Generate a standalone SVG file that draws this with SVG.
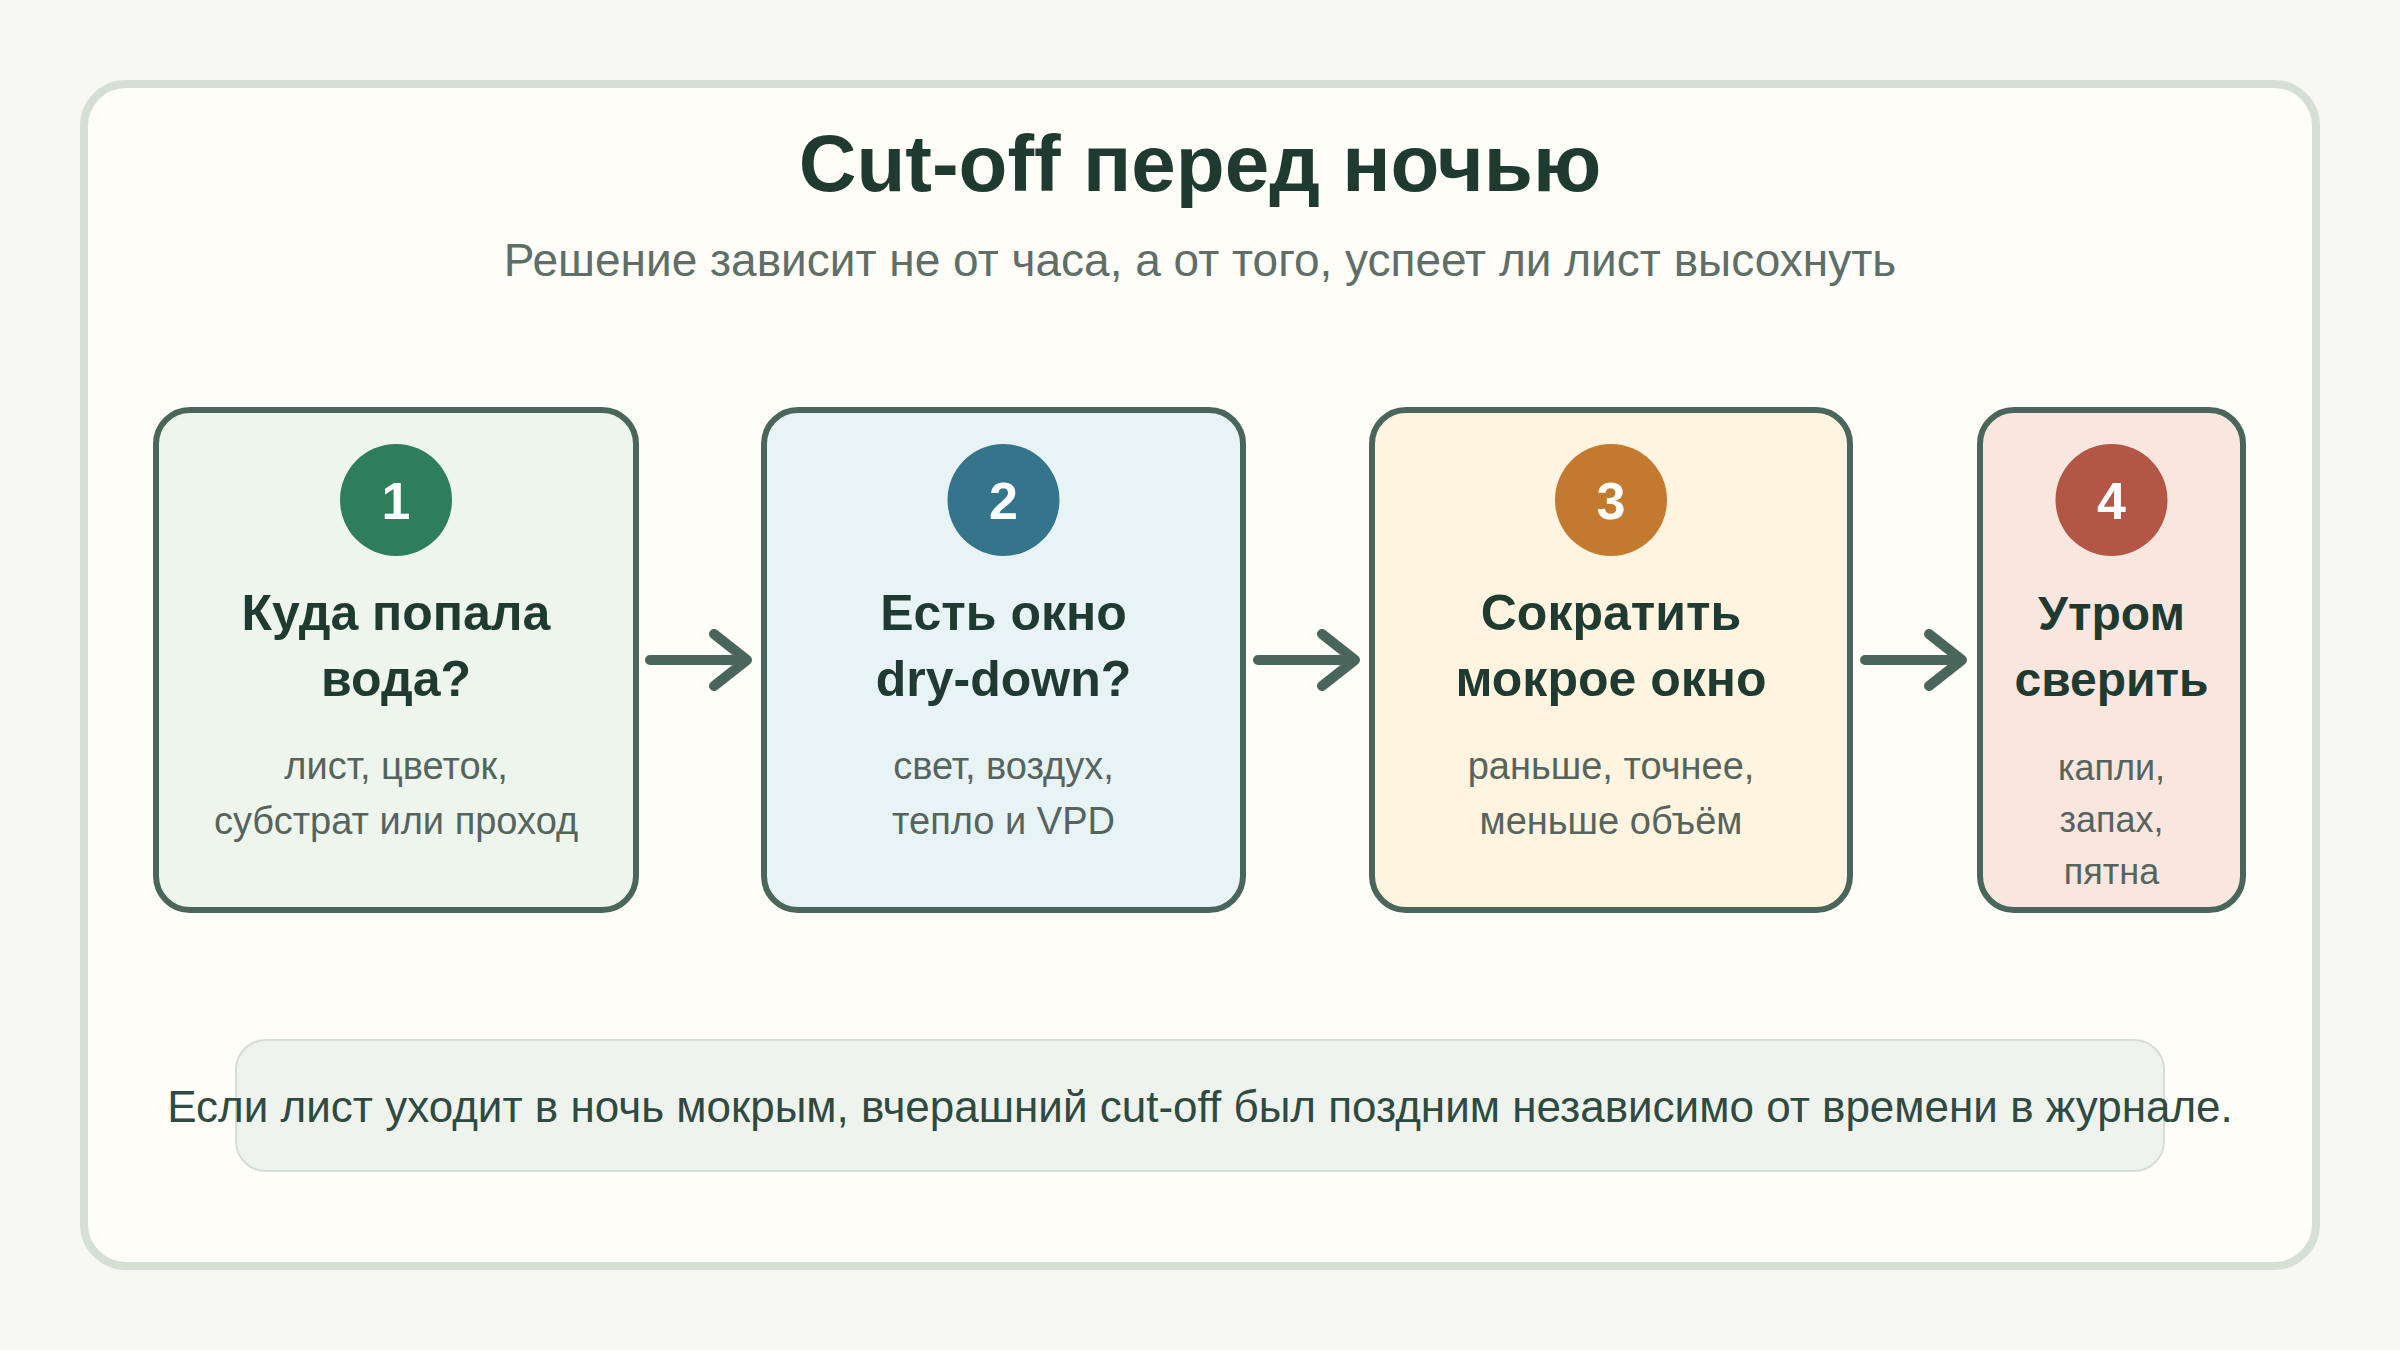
<svg xmlns="http://www.w3.org/2000/svg" width="2400" height="1350" viewBox="0 0 2400 1350">
  <defs>
    <style>
      .card { stroke: #4a665c; stroke-width: 6; }
      .num { font-family: "Liberation Sans", Arial, sans-serif; font-weight: bold; font-size: 52px; fill: #ffffff; text-anchor: middle; }
      .head { font-family: "Liberation Sans", Arial, sans-serif; font-weight: bold; font-size: 50px; fill: #1f3a30; text-anchor: middle; }
      .desc { font-family: "Liberation Sans", Arial, sans-serif; font-size: 38px; fill: #56645e; text-anchor: middle; }
      .small { font-size: 48px; }
      .dsmall { font-size: 36px; }
      .arrow { fill: none; stroke: #4a665c; stroke-width: 10; stroke-linecap: round; stroke-linejoin: round; }
    </style>
  </defs>
  <rect x="0" y="0" width="2400" height="1350" fill="#f7f7f3"/>
  <rect x="84" y="84" width="2232" height="1182" rx="42" fill="#fefdf7" stroke="#d5e0d5" stroke-width="8"/>
  <text x="1200" y="191" font-family="Liberation Sans, Arial, sans-serif" font-weight="bold" font-size="80" fill="#1f3a30" text-anchor="middle">Cut-off перед ночью</text>
  <text x="1200" y="276" font-family="Liberation Sans, Arial, sans-serif" font-size="46" fill="#5f6e67" text-anchor="middle">Решение зависит не от часа, а от того, успеет ли лист высохнуть</text>

  <g id="node1">
    <rect class="card" x="156" y="410" width="480" height="500" rx="34" fill="#edf5ec"/>
    <circle cx="396" cy="500" r="56" fill="#2e7d5b"/>
    <text class="num" x="396" y="519">1</text>
    <text class="head" x="396" y="630">Куда попала</text>
    <text class="head" x="396" y="696">вода?</text>
    <text class="desc" x="396" y="779">лист, цветок,</text>
    <text class="desc" x="396" y="834">субстрат или проход</text>
  </g>
  <g id="node2">
    <rect class="card" x="764" y="410" width="479" height="500" rx="34" fill="#e8f3f5"/>
    <circle cx="1003.5" cy="500" r="56" fill="#34758c"/>
    <text class="num" x="1003.5" y="519">2</text>
    <text class="head" x="1003.5" y="630">Есть окно</text>
    <text class="head" x="1003.5" y="696">dry-down?</text>
    <text class="desc" x="1003.5" y="779">свет, воздух,</text>
    <text class="desc" x="1003.5" y="834">тепло и VPD</text>
  </g>
  <g id="node3">
    <rect class="card" x="1372" y="410" width="478" height="500" rx="34" fill="#fff4df"/>
    <circle cx="1611" cy="500" r="56" fill="#c47a2e"/>
    <text class="num" x="1611" y="519">3</text>
    <text class="head" x="1611" y="630">Сократить</text>
    <text class="head" x="1611" y="696">мокрое окно</text>
    <text class="desc" x="1611" y="779">раньше, точнее,</text>
    <text class="desc" x="1611" y="834">меньше объём</text>
  </g>
  <g id="node4">
    <rect class="card" x="1980" y="410" width="263" height="500" rx="34" fill="#f8e6df"/>
    <circle cx="2111.5" cy="500" r="56" fill="#b35646"/>
    <text class="num" x="2111.5" y="519">4</text>
    <text class="head small" x="2111.5" y="630">Утром</text>
    <text class="head small" x="2111.5" y="696">сверить</text>
    <text class="desc dsmall" x="2111.5" y="780">капли,</text>
    <text class="desc dsmall" x="2111.5" y="832">запах,</text>
    <text class="desc dsmall" x="2111.5" y="884">пятна</text>
  </g>

  <g id="connectors">
    <path class="arrow" d="M650 660 H746 M714 634 L747 660 L714 686"/>
    <path class="arrow" d="M1258 660 H1354 M1322 634 L1355 660 L1322 686"/>
    <path class="arrow" d="M1865 660 H1961 M1929 634 L1962 660 L1929 686"/>
  </g>

  <g id="note">
    <rect x="236" y="1040" width="1928" height="131" rx="30" fill="#eff3ee" stroke="#d6ddd6" stroke-width="2"/>
    <text x="1200" y="1122" font-family="Liberation Sans, Arial, sans-serif" font-size="44" fill="#2f4a40" text-anchor="middle">Если лист уходит в ночь мокрым, вчерашний cut-off был поздним независимо от времени в журнале.</text>
  </g>
</svg>
